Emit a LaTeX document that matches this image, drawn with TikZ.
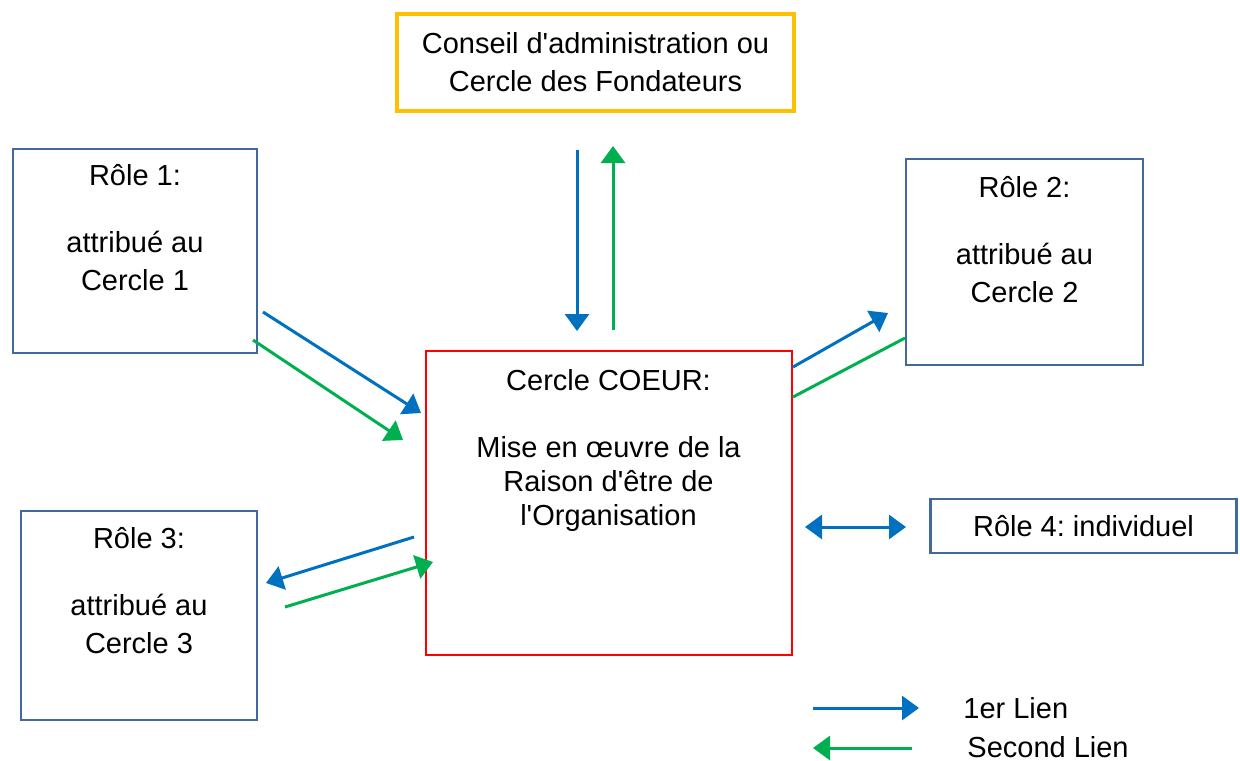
\documentclass[tikz,border=0pt]{standalone}
\usepackage{fontspec}
\setmainfont{Liberation Sans}
\usetikzlibrary{arrows.meta,positioning}
\frenchspacing

\definecolor{lienbleu}{RGB}{0,112,192}
\definecolor{lienvert}{RGB}{0,176,80}
\definecolor{cadrebleu}{RGB}{65,105,160}
\definecolor{cadreor}{RGB}{255,192,0}
\definecolor{cadrerouge}{RGB}{255,0,0}

\begin{document}
\begin{tikzpicture}[x=0.5pt, y=-0.5pt, >={Triangle[length=8.5pt,width=12pt]},
  boite/.style={draw=cadrebleu, line width=1.2pt, inner sep=0pt},
  texte/.style={align=center, inner sep=0pt, font=\fontsize{14.5}{19}\selectfont},
  premier/.style={draw=lienbleu, fill=lienbleu, line width=1.5pt},
  second/.style={draw=lienvert, fill=lienvert, line width=1.5pt}]
% fix the size of the page
\useasboundingbox (0,0) rectangle (1240,760);

% the board on top
\node[texte, draw=cadreor, line width=2pt, minimum width=198.5pt, minimum height=48.5pt]
  (conseil) at (595.5,62.5) {Conseil d\textquotesingle administration ou\\Cercle des Fondateurs};

% the core circle in the middle
\node[draw=cadrerouge, line width=1pt, minimum width=183pt, minimum height=152pt]
  (coeur) at (608.5,502.5) {};
\node[texte, font=\fontsize{14.5}{17}\selectfont, below=9.8pt of coeur.north] (tcoeur)
  {Cercle COEUR:\\[16.5pt]Mise en œuvre de la\\Raison d\textquotesingle être de\\l\textquotesingle Organisation};

% the role boxes
\foreach \nom/\x/\y/\w/\h in {
r1/135/251/122pt/102pt,
r2/1024.5/262/118.5pt/103pt,
r3/139/615.5/118pt/104.5pt}
\node[boite, minimum width=\w, minimum height=\h] (\nom) at (\x,\y) {};

% the text of each role box
\foreach \nom/\n/\d in {r1/1/8pt, r2/2/9pt, r3/3/8.5pt}
\node[texte, below=\d of \nom.north] (t\nom) {Rôle \n:\\[14.5pt]attribué au\\Cercle \n};

\node[texte, boite, minimum width=153pt, minimum height=27pt] (r4) at (1083.5,526) {Rôle 4: individuel};

% the ends of the links
\foreach \nom/\x/\y in {
c1d/577/150, c1f/577/331,
c2d/613/330, c2f/613/146,
p1d/263/312, p1f/421/413,
s1d/253/340, s1f/403/440,
p2d/793/367, p2f/888/313,
s2d/793/397, s2f/905/338,
p3d/414/537, p3f/266/583,
s3d/285/607, s3f/433/562,
p4d/805/527, p4f/906/527,
lpd/813/708, lpf/919/708,
lsd/912/748, lsf/813/748}
\coordinate (\nom) at (\x,\y);

% first links (blue)
\draw[premier, ->] (c1d) -- (c1f);
\draw[premier, ->] (p1d) -- (p1f);
\draw[premier, ->] (p2d) -- (p2f);
\draw[premier, ->] (p3d) -- (p3f);
\draw[premier, <->] (p4d) -- (p4f);

% second links (green)
\draw[second, ->] (c2d) -- (c2f);
\draw[second, ->] (s1d) -- (s1f);
\draw[second] (s2d) -- (s2f);
\draw[second, ->] (s3d) -- (s3f);

% the legend
\draw[premier, ->] (lpd) -- (lpf);
\draw[second, ->] (lsd) -- (lsf);
\node[texte, anchor=west] (lp) at (963,708) {1er Lien};
\node[texte, anchor=west] (ls) at (967,747) {Second Lien};
\end{tikzpicture}
\end{document}
